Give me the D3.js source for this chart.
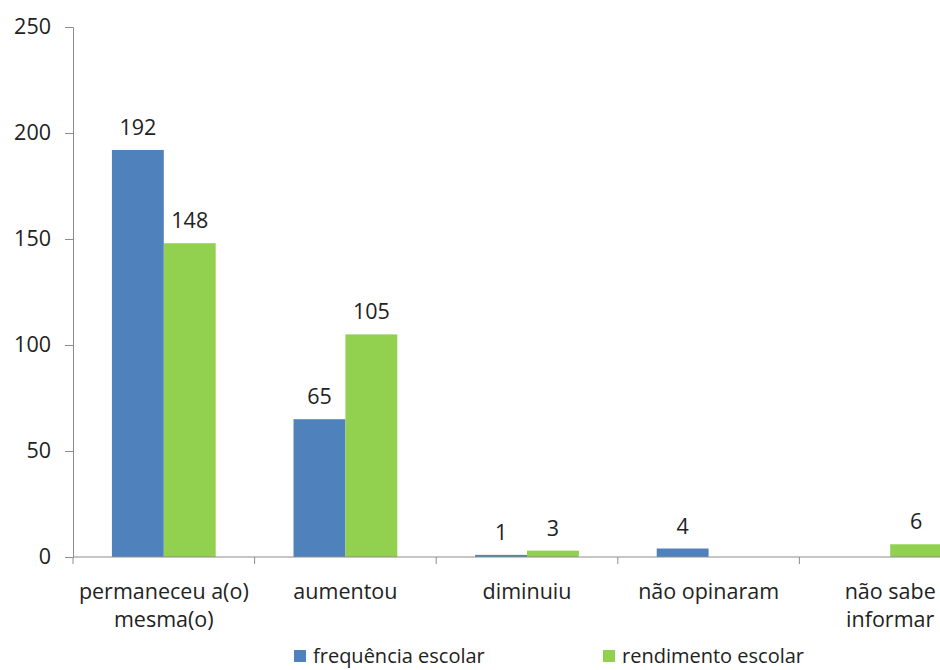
<!DOCTYPE html>
<html>
<head>
<meta charset="utf-8">
<script src="https://cdn.jsdelivr.net/npm/d3@7"></script>
<style>
  body { margin: 0; background: #fff; }
  text { font-family: "Open Sans", sans-serif; fill: #222; }
</style>
</head>
<body>
<div id="chart"></div>
<script>
var categories = [["permaneceu a(o)", "mesma(o)"], ["aumentou"], ["diminuiu"], ["não opinaram"], ["não sabe", "informar"]];
var seriesNames = ["frequência escolar", "rendimento escolar"];
var frequencia = [192, 65, 1, 4, 0];
var rendimento = [148, 105, 3, 0, 6];
var yTicks = [0, 50, 100, 150, 200, 250];
var colors = ["#4f81bd", "#92d050"];

var svg = d3.select("#chart").append("svg")
    .attr("width", 940)
    .attr("height", 670);

var x0 = d3.scaleBand()
    .domain(d3.range(categories.length))
    .range([73, 981]);

var x1 = d3.scaleBand()
    .domain([0, 1])
    .range([0, x0.bandwidth()])
    .paddingOuter(0.75)
    .paddingInner(0);

var y = d3.scaleLinear()
    .domain([0, 250])
    .range([557, 27]);

// y axis
var yAxis = svg.append("g")
    .attr("transform", "translate(73,0)")
    .call(d3.axisLeft(y).tickValues(yTicks).tickSize(8).tickPadding(14));
yAxis.select(".domain").attr("stroke", "#8c8c8c");
yAxis.selectAll(".tick line").attr("stroke", "#8c8c8c");
yAxis.selectAll(".tick text").style("font-size", "21.5px").style("font-family", "'Open Sans', sans-serif").attr("fill", "#222");

// bars
var data = [frequencia, rendimento];
data.forEach(function(vals, s){
    var pts = vals.map(function(v, i){ return {i: i, v: v}; });
    svg.selectAll("rect.s" + s)
        .data(pts)
        .enter()
        .append("rect")
        .attr("class", "s" + s)
        .attr("x", function(d){ return x0(d.i) + x1(s); })
        .attr("y", function(d){ return y(d.v); })
        .attr("width", x1.bandwidth())
        .attr("height", function(d){ return y(0) - y(d.v); })
        .attr("fill", colors[s]);

    svg.selectAll("text.l" + s)
        .data(pts.filter(function(d){ return d.v > 0; }))
        .enter()
        .append("text")
        .attr("class", "l" + s)
        .attr("x", function(d){ return x0(d.i) + x1(s) + x1.bandwidth() / 2; })
        .attr("y", function(d){ return y(d.v) - 15; })
        .attr("text-anchor", "middle")
        .style("font-size", "21.5px")
        .text(function(d){ return d.v; });
});

// x axis
svg.append("line")
    .attr("x1", 73).attr("x2", 940)
    .attr("y1", y(0)).attr("y2", y(0))
    .attr("stroke", "#8c8c8c");
svg.selectAll("line.xt")
    .data(d3.range(categories.length))
    .enter()
    .append("line")
    .attr("class", "xt")
    .attr("x1", function(d){ return x0(d); })
    .attr("x2", function(d){ return x0(d); })
    .attr("y1", y(0)).attr("y2", y(0) + 7)
    .attr("stroke", "#8c8c8c");

var labels = svg.selectAll("text.cat")
    .data(categories)
    .enter()
    .append("text")
    .attr("class", "cat")
    .attr("text-anchor", "middle")
    .style("font-size", "21.5px")
    .attr("transform", function(d, i){ return "translate(" + (x0(i) + x0.bandwidth() / 2) + ",599)"; });
labels.selectAll("tspan")
    .data(function(d){ return d; })
    .enter()
    .append("tspan")
    .attr("x", 0)
    .attr("dy", function(d, i){ return i === 0 ? 0 : 28; })
    .text(function(d){ return d; });

// legend
var legendX = [294, 603];
var legend = svg.selectAll("g.leg")
    .data(seriesNames)
    .enter()
    .append("g")
    .attr("class", "leg")
    .attr("transform", function(d, i){ return "translate(" + legendX[i] + ",650)"; });
legend.append("rect")
    .attr("width", 12).attr("height", 12)
    .attr("fill", function(d, i){ return colors[i]; });
legend.append("text")
    .attr("x", 19)
    .attr("y", 13)
    .style("font-size", "20px")
    .text(function(d){ return d; });
</script>
</body>
</html>
